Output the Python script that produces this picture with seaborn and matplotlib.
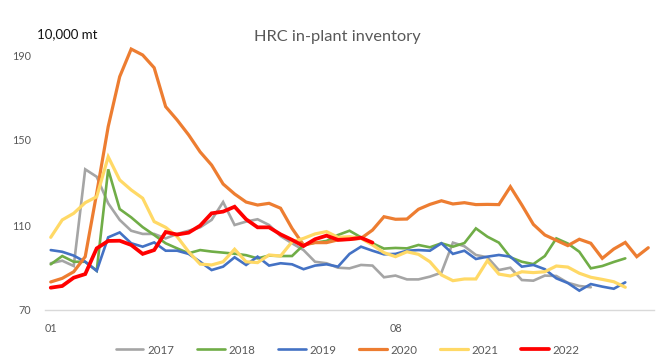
import numpy as np
import pandas as pd
import matplotlib
matplotlib.use("Agg")
import matplotlib.pyplot as plt
import seaborn as sns

# ---- data (10,000 mt), weekly ----
x_tick_labels = ["01", "08"]
x_tick_pos = [0, 30]
n_weeks = 53

y2017 = [92, 93.2, 90.7, 136.2, 132.7, 120.2, 112.4, 107.3, 105.8, 105.8, 103.7, 105.8,
         107.3, 108.9, 112.4, 120.8, 110, 111.6, 112.7, 110, 104.8, 101.4, 98.2, 92.7,
         92, 89.9, 89.6, 91.2, 90.9, 85.4, 86.2, 84.4, 84.4, 85.7, 87.6, 101.7, 100,
         95.9, 94.8, 88.8, 89.9, 84.1, 83.8, 86.2, 86, 82.8, 81.3, 80.7]
y2018 = [91.5, 95.4, 92.7, 92.7, 88.5, 136.2, 117.5, 113.6, 109, 105.3, 101.4, 99,
         96.7, 98.2, 97.5, 97, 96.5, 95.8, 94.3, 95.6, 95.4, 95.4, 100.6, 101.7, 102.5,
         105.3, 107.3, 104.2, 101.4, 98.9, 99.2, 99, 100.6, 99.5, 101.4, 99.8, 101.5,
         108.4, 104.5, 101.7, 94.8, 92.7, 91.6, 95.4, 103.7, 101.3, 97.4, 89.6, 90.7,
         92.6, 94.3]
y2019 = [98.2, 97.4, 95.6, 92.7, 88.4, 104.2, 106.5, 101.4, 99.8, 101.8, 97.9, 97.9,
         96.4, 92.7, 88.8, 90.4, 94.8, 91.2, 95.1, 90.9, 92, 91.5, 89.2, 90.9, 91.5,
         90.4, 96.4, 99.8, 97.9, 96.2, 96.4, 97.9, 98.2, 97.9, 101.4, 96.4, 97.9, 94,
         95.1, 95.9, 95.1, 90.4, 91.2, 89.2, 84.9, 82.7, 79.1, 82.2, 81, 80, 83]
y2020 = [83.2, 84.9, 88, 95.1, 125, 156.3, 179.8, 192.8, 190, 184, 165.7, 159.4,
         152.4, 144.4, 138.2, 129.3, 124.6, 120.8, 119.4, 120.2, 117.9, 108.4, 100.6,
         101.7, 101.7, 103, 103.3, 103.7, 107.6, 113.9, 112.7, 112.8, 117.4, 119.7,
         121.4, 119.9, 120.5, 119.6, 119.7, 119.6, 128, 119.4, 110.3, 105.3, 102.8,
         100.3, 103.3, 101.4, 94.3, 98.7, 101.8, 95.1, 99.3]
y2021 = [104.2, 112.4, 115.5, 120.5, 123.3, 142.1, 131.2, 126.5, 122.6, 111.6, 108.9,
         104.5, 97.4, 91.6, 91.2, 92.7, 98.6, 92.7, 92.3, 95.9, 95.4, 102.1, 103.7,
         105.8, 106.9, 104.2, 104.5, 103.7, 100.6, 97, 95.1, 97.4, 96.2, 92.7, 86.5,
         83.8, 84.6, 84.6, 93.2, 86.9, 86, 88, 87.6, 88, 90.7, 90.2, 87.3, 85.4, 84.4,
         83.3, 80.7]
y2022 = [80.5, 81.3, 85.2, 86.9, 99, 102.5, 102.6, 100.6, 96.4, 98.2, 106.7, 105.5,
         106.4, 109.7, 115.5, 116.3, 118.6, 112.7, 108.9, 108.9, 105.6, 103, 100.1,
         103.3, 105, 103, 103.3, 104, 101.7]

years = ["2017", "2018", "2019", "2020", "2021", "2022"]
series = [y2017, y2018, y2019, y2020, y2021, y2022]
colors = ["#A5A5A5", "#70AD47", "#4472C4", "#ED7D31", "#FFD966", "#FF0000"]
widths = [1.9, 1.9, 1.9, 2.3, 2.3, 2.7]

rows = []
for yr, vals in zip(years, series):
    for i, v in enumerate(vals):
        rows.append({"week": i, "value": v, "year": yr})
df = pd.DataFrame(rows)

sns.set_theme(style="white")
plt.rcParams["font.family"] = ["Lato", "DejaVu Sans"]

fig = plt.figure(figsize=(6.56, 3.63), dpi=100)
ax = fig.add_axes([45 / 656, 53 / 363, 609 / 656, 255 / 363])

handles = []
for yr, col, lw in zip(years, colors, widths):
    sub = df[df["year"] == yr]
    sns.lineplot(data=sub, x="week", y="value", color=col, linewidth=lw, ax=ax,
                 legend=False, solid_joinstyle="miter")
    handles.append(plt.Line2D([], [], color=col, linewidth=lw))
for ln in ax.lines:
    ln.set_clip_on(False)

ax.set_xlim(-0.5, n_weeks - 0.5)
ax.set_ylim(70, 190)
ax.set_yticks([70, 110, 150, 190])
ax.set_xticks(x_tick_pos)
ax.set_xticklabels(x_tick_labels)
ax.set_xticks(np.arange(-0.5, n_weeks, 1), minor=True)
ax.set_xlabel("")
ax.set_ylabel("")
ax.tick_params(axis="x", which="major", length=0, pad=9, labelsize=7.8, labelcolor="#595959")
ax.tick_params(axis="x", which="minor", length=4, width=0.8, color="#D9D9D9", direction="out")
ax.tick_params(axis="y", length=0, pad=10, labelsize=7.8, labelcolor="#595959")
for s in ["left", "right", "top"]:
    ax.spines[s].set_visible(False)
ax.spines["bottom"].set_color("#D9D9D9")
ax.spines["bottom"].set_linewidth(1.0)
ax.grid(False)

fig.text(0.514, 0.898, "HRC in-plant inventory", ha="center", va="center",
         fontsize=11.8, color="#595959")
fig.text(37 / 656, 0.906, "10,000 mt", ha="left", va="center", fontsize=9.5, color="#111111")

fig.legend(handles, years, loc="center", bbox_to_anchor=(0.53, 13 / 363),
           ncol=6, frameon=False, fontsize=8.3, handlelength=2.4, handletextpad=0.3,
           columnspacing=2.0, labelcolor="#595959")

fig.savefig("out.png", dpi=100)
